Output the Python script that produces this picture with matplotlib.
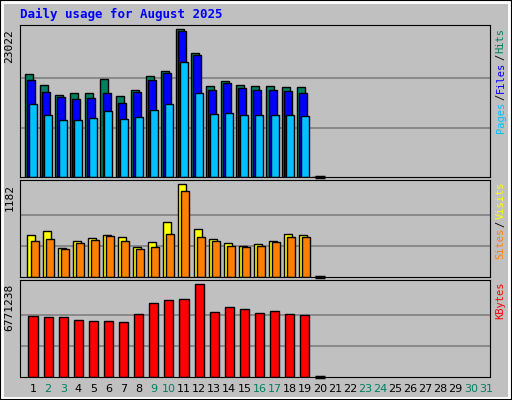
import numpy as np
import matplotlib.pyplot as plt
from matplotlib.patches import Rectangle

days = np.arange(1, 21)
hits = [15973, 14251, 12685, 12998, 12998, 15190, 12528, 13468, 15660, 16443,
        23022, 19262, 14094, 14877, 14251, 14094, 14094, 13937, 13937, 0]
files = [15034, 13154, 12371, 12058, 12215, 12998, 11588, 13154, 15034, 16130,
         22707, 18949, 13468, 14564, 13781, 13468, 13468, 13311, 12998, 0]
pages = [11432, 9709, 8926, 8926, 9239, 10336, 9083, 9396, 10492, 11432,
         17852, 12998, 9866, 10022, 9709, 9709, 9709, 9709, 9553, 0]
visits = [540, 591, 373, 463, 501, 540, 514, 386, 450, 694,
          1182, 604, 488, 437, 398, 424, 463, 553, 540, 0]
sites = [463, 488, 360, 437, 475, 527, 463, 360, 386, 553,
         1092, 514, 463, 398, 386, 398, 450, 514, 514, 0]
kbytes = [4416000, 4342000, 4342000, 4122000, 4048000, 4048000, 3974000, 4563000,
          5373000, 5594000, 5667000, 6771238, 4710000, 5078000, 4931000, 4637000,
          4784000, 4563000, 4490000, 0]
weekends = [2, 3, 9, 10, 16, 17, 23, 24, 30, 31]

mono = 'DejaVu Sans Mono'
bg = '#C0C0C0'
fig = plt.figure(figsize=(5.12, 4.0), dpi=100, facecolor=bg)
fig.patches.append(Rectangle((0.004, 0.004), 0.99, 0.99, transform=fig.transFigure,
                             fill=False, edgecolor='white', linewidth=2))
fig.patches.append(Rectangle((0.0, 0.0), 1, 1, transform=fig.transFigure,
                             fill=False, edgecolor='black', linewidth=1.5))

L, W = 20 / 512, 470 / 512
def panel(top, bot):
    return fig.add_axes([L, 1 - bot / 400, W, (bot - top) / 400])

ax1 = panel(25, 177)
ax2 = panel(180, 277)
ax3 = panel(280, 377)

def style(ax, vals, frac):
    vmax = max(vals)
    ax.set_facecolor(bg)
    ax.set_xlim(0.139, 31.27)
    ax.set_ylim(0, vmax * frac)
    for g in (vmax / 3, vmax * 2 / 3):
        ax.axhline(g, color='#808080', linewidth=1.2, zorder=0)
    ax.set_xticks([])
    ax.set_yticks([])
    for s in ax.spines.values():
        s.set_color('black')
    ax.text(-0.012, 1 / frac, str(vmax), transform=ax.transAxes,
            rotation=90, ha='right', va='top', fontsize=8, family=mono)
    # zero days drawn as a short black line
    for d, v in zip(days, vals):
        if v == 0:
            ax.plot([d - 0.35, d + 0.35], [0, 0], color='black', linewidth=2.5,
                    solid_capstyle='butt', zorder=3, clip_on=False)

ek = dict(edgecolor='black', linewidth=1, zorder=2)
ax1.bar(days - 0.27, hits, width=0.53, color='#00805F', **ek)
ax1.bar(days - 0.13, files, width=0.53, color='#0000FF', **ek)
ax1.bar(days, pages, width=0.53, color='#00C0FF', **ek)
style(ax1, hits, 151 / 147)

ax2.bar(days - 0.1, visits, width=0.53, color='#FFFF00', **ek)
ax2.bar(days + 0.1, sites, width=0.53, color='#FF8000', **ek)
style(ax2, visits, 96 / 92)

ax3.bar(days, kbytes, width=0.6, color='#FF0000', **ek)
style(ax3, kbytes, 96 / 92)

def side(ax, parts):
    y = 0.98
    h = ax.get_position().height * 400
    for txt, col in parts:
        ax.text(1.012, y, txt, transform=ax.transAxes, rotation=90,
                ha='left', va='top', fontsize=7.5, family=mono, color=col)
        y -= (len(txt) * 6.3 + 1) / h

side(ax1, [('Hits', '#00805F'), ('/', 'black'), ('Files', '#0000FF'),
           ('/', 'black'), ('Pages', '#00C0FF')])
side(ax2, [('Visits', '#FFFF00'), ('/', 'black'), ('Sites', '#FF8000')])
side(ax3, [('KBytes', '#FF0000')])

for d in range(1, 32):
    x = L + W * (d - 0.139) / (31.27 - 0.139)
    fig.text(x, 1 - 389 / 400, str(d), ha='center', va='center', fontsize=8,
             color='#00805F' if d in weekends else 'black')

fig.text(20 / 512, 1 - 14 / 400, 'Daily usage for August 2025', ha='left',
         va='center', fontsize=9, family=mono, weight='bold', color='#0000FF')

fig.savefig('out.png', dpi=100, facecolor=bg)
